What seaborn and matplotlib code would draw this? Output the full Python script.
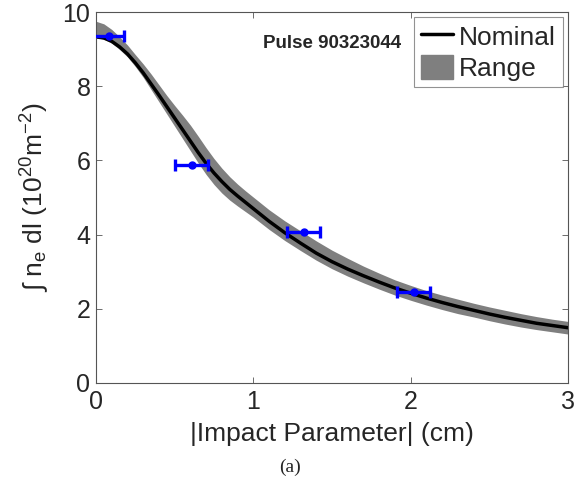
import numpy as np
import pandas as pd
import matplotlib
matplotlib.use("Agg")
import matplotlib.pyplot as plt
import seaborn as sns
from matplotlib.patches import Patch
from matplotlib.lines import Line2D

# ---- data ----
impact = [0.00, 0.05, 0.10, 0.15, 0.20, 0.25, 0.30, 0.35, 0.40, 0.45, 0.50,
          0.55, 0.60, 0.65, 0.70, 0.75, 0.80, 0.85, 0.90, 0.95, 1.00, 1.10,
          1.20, 1.30, 1.40, 1.50, 1.60, 1.70, 1.80, 1.90, 2.00, 2.10, 2.20,
          2.30, 2.40, 2.50, 2.60, 2.70, 2.80, 2.90, 3.00]
nominal = [9.33, 9.30, 9.21, 9.06, 8.87, 8.63, 8.36, 8.06, 7.76, 7.45, 7.14,
           6.83, 6.52, 6.21, 5.92, 5.66, 5.43, 5.22, 5.04, 4.87, 4.70, 4.36,
           4.05, 3.77, 3.50, 3.27, 3.07, 2.89, 2.72, 2.56, 2.42, 2.29, 2.17,
           2.06, 1.96, 1.86, 1.77, 1.69, 1.61, 1.55, 1.49]
range_high = [9.75, 9.68, 9.53, 9.33, 9.11, 8.85, 8.60, 8.33, 8.04, 7.75, 7.48,
              7.22, 6.95, 6.65, 6.34, 6.05, 5.79, 5.56, 5.36, 5.18, 5.01, 4.67,
              4.37, 4.10, 3.83, 3.58, 3.36, 3.15, 2.96, 2.78, 2.63, 2.49, 2.37,
              2.26, 2.15, 2.05, 1.96, 1.87, 1.79, 1.72, 1.66]
range_low = [9.31, 9.27, 9.16, 8.99, 8.79, 8.53, 8.24, 7.91, 7.58, 7.25, 6.92,
             6.59, 6.26, 5.93, 5.62, 5.35, 5.12, 4.93, 4.77, 4.62, 4.47, 4.14,
             3.84, 3.57, 3.31, 3.08, 2.88, 2.70, 2.53, 2.37, 2.23, 2.10, 1.98,
             1.87, 1.78, 1.68, 1.59, 1.51, 1.44, 1.38, 1.32]

meas_x = [0.08, 0.61, 1.32, 2.02]
meas_y = [9.36, 5.87, 4.08, 2.44]
meas_xerr = [0.10, 0.105, 0.105, 0.105]

x_ticks = [0, 1, 2, 3]
y_ticks = [0, 2, 4, 6, 8, 10]

df = pd.DataFrame({"impact": impact, "nominal": nominal,
                   "low": range_low, "high": range_high})

sns.set_theme(style="white")
plt.rcParams["font.family"] = ["Liberation Sans", "DejaVu Sans"]
plt.rcParams["mathtext.fontset"] = "custom"
plt.rcParams["mathtext.rm"] = "Liberation Sans"
plt.rcParams["mathtext.it"] = "Liberation Sans"

fig = plt.figure(figsize=(5.74, 4.84), dpi=100)
ax = fig.add_axes([96 / 574, 1 - 383 / 484, (568 - 96) / 574, (383 - 12) / 484])

ax.fill_between(df["impact"], df["low"], df["high"], color="#7f7f7f",
                linewidth=0, zorder=1)
sns.lineplot(data=df, x="impact", y="nominal", color="black", linewidth=2.5,
             ax=ax, zorder=2)
ax.errorbar(meas_x, meas_y, xerr=meas_xerr, fmt="o", color="#0000ff",
            markersize=5, elinewidth=2.4, capsize=4.5, capthick=2.4, zorder=3)

ax.set_xlim(0, 3)
ax.set_ylim(0, 10)
ax.set_xticks(x_ticks)
ax.set_yticks(y_ticks)
ax.set_xticklabels([str(t) for t in x_ticks], fontsize=18)
ax.set_yticklabels([str(t) for t in y_ticks], fontsize=18)
ax.tick_params(direction="in", length=4, width=0.6, color="#555555",
               top=True, right=True, bottom=True, left=True)
ax.tick_params(axis="x", pad=5)
ax.tick_params(axis="y", pad=4)
for s in ax.spines.values():
    s.set_color("#555555")
    s.set_linewidth(0.8)

ax.set_xlabel("|Impact Parameter| (cm)", fontsize=19, labelpad=6)
ax.set_ylabel(r"$\int$ n$_{\rm e}$ dl (10$^{20}$m$^{-2}$)", fontsize=19,
              labelpad=8)

ax.text(0.5, 0.915, "Pulse 90323044", transform=ax.transAxes,
        fontsize=13.5, fontweight="bold", ha="center", va="center")

handles = [Line2D([0], [0], color="black", linewidth=2.5),
           Patch(facecolor="#7f7f7f", edgecolor="#7f7f7f")]
leg = ax.legend(handles, ["Nominal", "Range"], loc="upper right",
                fontsize=19, frameon=True, fancybox=False,
                borderpad=0.25, labelspacing=0.2, handlelength=1.2,
                handleheight=1.0, handletextpad=0.25, borderaxespad=0.2)
leg.get_frame().set_edgecolor("#777777")
leg.get_frame().set_linewidth(0.8)

fig.text(290 / 574, 1 - 467 / 484, "(a)", fontsize=14,
         family=["Liberation Serif"], ha="center", va="center")

fig.savefig("out.png", dpi=100)
